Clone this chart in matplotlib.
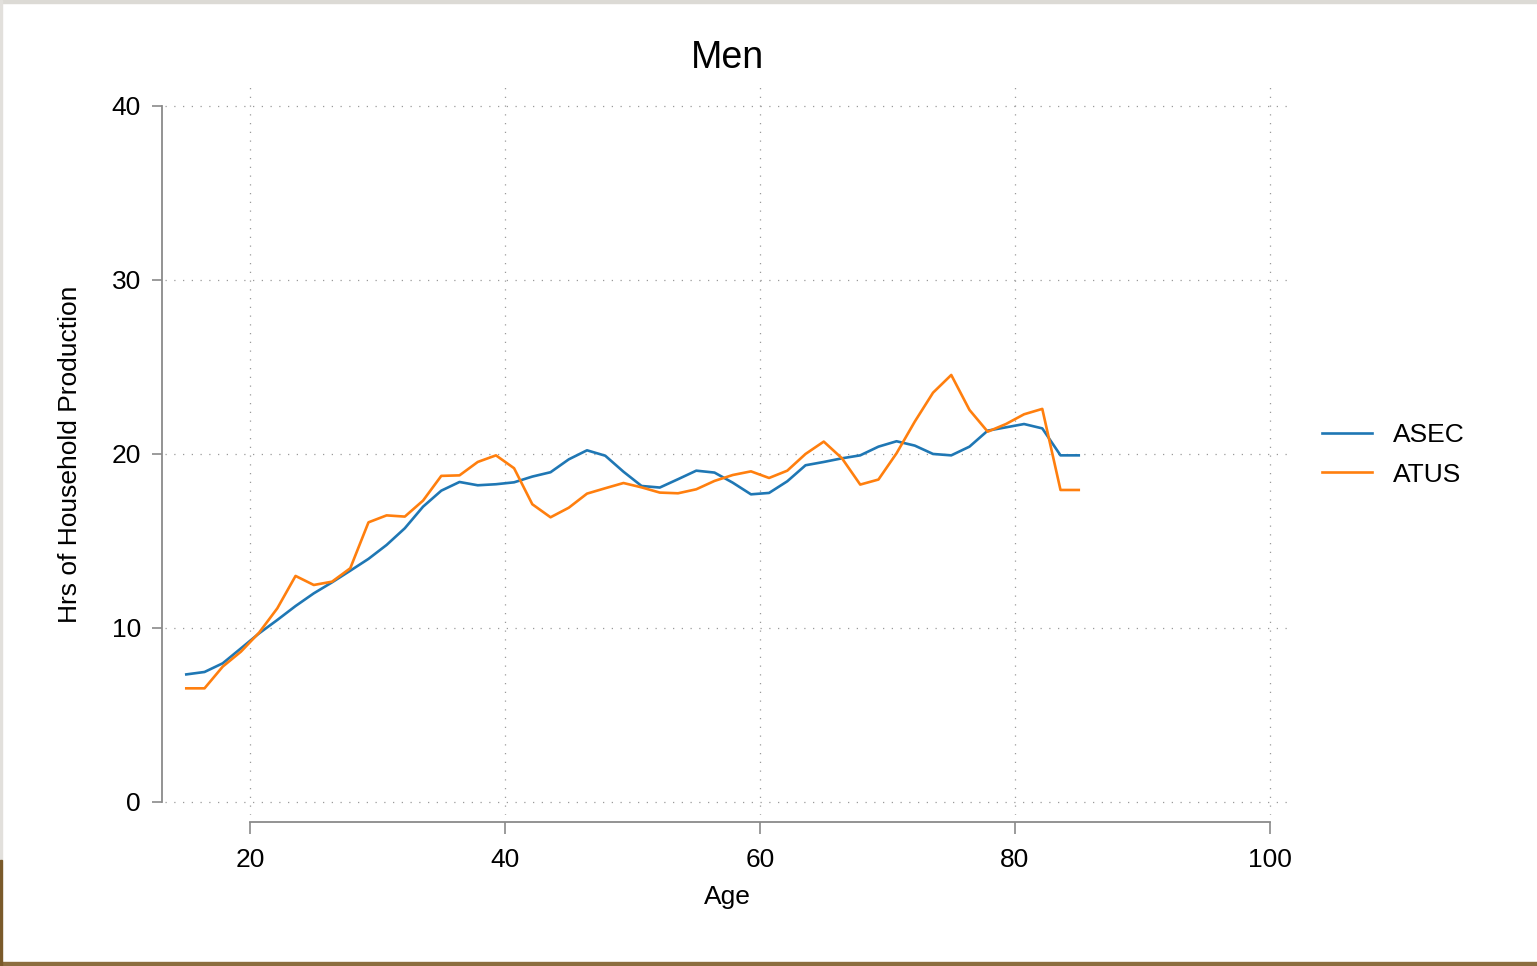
import matplotlib
matplotlib.use("Agg")
import matplotlib.pyplot as plt
from matplotlib.patches import Rectangle

# --- Style ---
plt.rcParams['font.family'] = ['Liberation Sans', 'DejaVu Sans']
FS = 19
TITLE_FS = 27

# --- Data ---
ages = [15.00, 16.43, 17.86, 19.29, 20.71, 22.14, 23.57, 25.00, 26.43, 27.86,
        29.29, 30.71, 32.14, 33.57, 35.00, 36.43, 37.86, 39.29, 40.71, 42.14,
        43.57, 45.00, 46.43, 47.86, 49.29, 50.71, 52.14, 53.57, 55.00, 56.43,
        57.86, 59.29, 60.71, 62.14, 63.57, 65.00, 66.43, 67.86, 69.29, 70.71,
        72.14, 73.57, 75.00, 76.43, 77.86, 79.29, 80.71, 82.14, 83.57, 85.00]

asec = [7.33, 7.47, 7.97, 8.83, 9.69, 10.46, 11.26, 11.99, 12.62, 13.29,
        13.97, 14.77, 15.73, 16.97, 17.89, 18.39, 18.20, 18.26, 18.37, 18.70,
        18.95, 19.69, 20.21, 19.90, 18.98, 18.16, 18.07, 18.55, 19.04, 18.93,
        18.35, 17.68, 17.76, 18.43, 19.35, 19.54, 19.75, 19.92, 20.42, 20.73,
        20.48, 20.00, 19.92, 20.42, 21.34, 21.53, 21.72, 21.47, 19.92, 19.92]

atus = [6.53, 6.53, 7.78, 8.64, 9.73, 11.13, 12.99, 12.47, 12.66, 13.43,
        16.07, 16.47, 16.40, 17.32, 18.74, 18.77, 19.54, 19.92, 19.18, 17.11,
        16.36, 16.91, 17.72, 18.03, 18.33, 18.08, 17.78, 17.74, 17.97, 18.45,
        18.79, 19.00, 18.62, 19.04, 20.00, 20.71, 19.75, 18.24, 18.53, 20.04,
        21.86, 23.52, 24.54, 22.53, 21.28, 21.72, 22.28, 22.59, 17.93, 17.93]

series_labels = ["ASEC", "ATUS"]
series_colors = ["#1f77b4", "#ff7f0e"]
xticks = [20, 40, 60, 80, 100]
yticks = [0, 10, 20, 30, 40]

W, H = 1537, 966
fig = plt.figure(figsize=(W / 100, H / 100), dpi=100)
fig.patch.set_facecolor("white")

# axes box in pixels: left 165, right 1290, top 83, bottom 815
ax = fig.add_axes([165 / W, 1 - 815 / H, (1290 - 165) / W, (815 - 83) / H])

for vals, lab, col in zip([asec, atus], series_labels, series_colors):
    ax.plot(ages, vals, color=col, lw=1.9, label=lab, solid_joinstyle="round")

ax.set_xlim(13.33, 101.57)
ax.set_ylim(-0.75, 41.32)

# --- Stata-like axes ---
for s in ["top", "right"]:
    ax.spines[s].set_visible(False)
ax.spines["left"].set_position(("outward", 2.2))
ax.spines["bottom"].set_position(("outward", 5))
ax.spines["left"].set_bounds(0, 40)
ax.spines["bottom"].set_bounds(20, 100)
for s in ["left", "bottom"]:
    ax.spines[s].set_color("#8a8a8a")
    ax.spines[s].set_linewidth(1.3)

ax.set_xticks(xticks)
ax.set_yticks(yticks)
ax.tick_params(axis="y", length=7.2, width=1.2, color="#8a8a8a", pad=8, labelsize=FS)
ax.tick_params(axis="x", length=8.6, width=1.2, color="#8a8a8a", pad=10.5, labelsize=FS)

ax.grid(True, color="#9a9a9a", linestyle=(0, (1, 6)), linewidth=0.9)
ax.set_axisbelow(True)

ax.set_xlabel("Age", fontsize=FS)
ax.xaxis.set_label_coords((727.5 - 165) / 1125, -(897 - 815) / 732)
ax.xaxis.label.set_va("center")
ax.set_ylabel("Hrs of Household Production", fontsize=FS)
ax.yaxis.set_label_coords(-(165 - 70) / 1125, (815 - 454) / 732)
ax.yaxis.label.set_va("center")

fig.text(727.5 / W, 1 - 58 / H, "Men", fontsize=TITLE_FS, ha="center", va="center")

ax.legend(loc="center left", bbox_to_anchor=(1322 / W, 1 - 455 / H),
          bbox_transform=fig.transFigure, frameon=False, fontsize=FS,
          handlelength=1.9, handletextpad=0.8, labelspacing=0.58,
          borderpad=0, borderaxespad=0)

# screenshot edges
fig.patches.append(Rectangle((0, 1 - 3 / H), 1, 3 / H, transform=fig.transFigure,
                             color="#dcdad5", zorder=0))
fig.patches.append(Rectangle((0, 0), 1, 4 / H, transform=fig.transFigure,
                             color="#8c6d3f", zorder=0))
fig.patches.append(Rectangle((0, 106 / H), 2 / W, (966 - 106) / H, transform=fig.transFigure,
                             color="#e2e0dc", zorder=0))
fig.patches.append(Rectangle((0, 0), 2 / W, 106 / H, transform=fig.transFigure,
                             color="#7a5a2a", zorder=0))

fig.savefig("out.png", dpi=100)
